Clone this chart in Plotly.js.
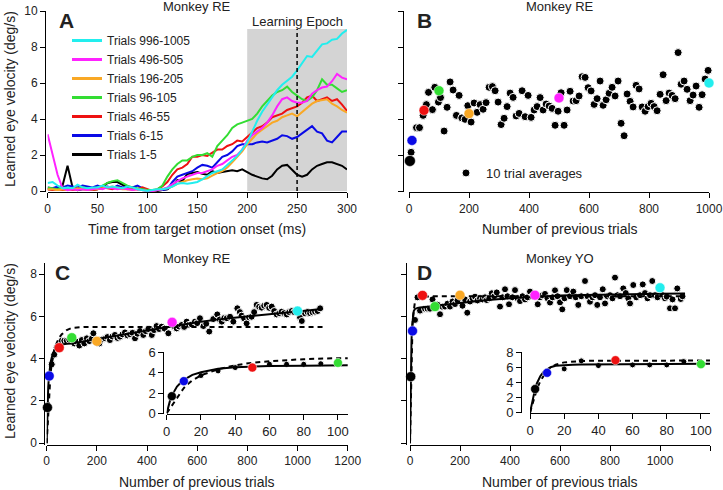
<!DOCTYPE html>
<html><head><meta charset="utf-8">
<script src="https://cdn.plot.ly/plotly-3.0.1.min.js"></script>
<style>html,body{margin:0;padding:0;background:#fff}#chart{width:723px;height:490px}</style>
</head><body><div id="chart"></div>
<script>
// ---------- Panel A: learned eye velocity traces ----------
const timeMs = [0,5,10,15,20,25,30,35,40,45,50,55,60,65,70,75,80,85,90,95,100,105,110,115,120,125,130,135,140,145,150,155,160,165,170,175,180,185,190,195,200,205,210,215,220,225,230,235,240,245,250,255,260,265,270,275,280,285,290,295,300];
const trials996 = [0.45,0.5,0.3,0.15,0.2,0.15,0.35,0.2,0.15,0.2,0.2,0.3,0.2,0.25,0.2,0.15,0.25,0.2,0.1,0.05,0.0,0.05,0.1,0.1,0.15,0.25,0.4,0.45,0.4,0.45,0.5,0.65,0.85,1.0,1.1,1.2,1.45,1.7,1.95,2.3,2.7,3.3,3.9,4.4,4.8,5.2,5.6,5.9,6.1,6.35,6.7,7.1,7.5,7.45,7.8,8.15,8.2,8.4,8.45,8.75,8.95];
const trials496 = [3.15,2.1,0.9,0.15,0.05,0.1,0.05,0.1,0.05,0.1,0.15,0.1,0.2,0.15,0.1,0.15,0.1,0.05,0.1,0.05,0.0,0.0,0.05,0.1,0.2,0.4,0.55,0.7,0.8,0.9,1.0,1.0,1.1,1.2,1.4,1.5,1.7,1.9,2.0,2.3,2.8,3.1,3.3,3.5,3.8,4.2,4.7,5.1,5.2,5.0,4.9,4.9,5.0,5.4,5.6,5.75,5.8,6.1,6.5,6.3,6.2];
const trials196 = [0.1,0.1,0.05,0.1,0.05,0.1,0.15,0.1,0.05,0.1,0.1,0.15,0.2,0.25,0.15,0.1,0.1,0.05,0.1,0.05,0.0,0.0,0.05,0.1,0.15,0.25,0.4,0.5,0.6,0.65,0.7,0.65,0.7,0.85,1.0,1.1,1.3,1.6,1.9,2.2,2.6,2.9,3.2,3.4,3.6,3.8,3.9,4.1,4.2,4.3,4.15,4.4,4.6,4.85,5.0,5.05,5.1,4.85,4.7,4.5,4.35];
const trials96 = [0.2,0.15,0.1,0.2,0.1,0.15,0.1,0.2,0.15,0.1,0.2,0.3,0.45,0.55,0.6,0.45,0.3,0.2,0.15,0.1,0.05,0.05,0.1,0.3,0.8,1.2,1.5,1.7,1.7,1.9,2.0,2.0,2.1,1.9,2.5,2.8,3.1,3.5,3.7,3.8,3.9,4.0,4.3,4.7,5.0,5.3,5.5,5.6,5.8,5.5,5.3,5.1,5.0,5.2,5.6,6.2,5.9,5.9,5.7,5.5,5.6];
const trials46 = [0.1,0.05,0.1,0.05,0.1,0.05,0.1,0.15,0.1,0.05,0.1,0.2,0.15,0.1,0.2,0.15,0.1,0.15,0.1,0.2,0.1,0.0,0.1,0.25,0.5,0.9,1.2,1.3,1.5,1.9,1.9,2.0,1.95,2.15,2.3,2.3,2.5,2.6,2.8,2.75,3.0,3.3,3.5,3.6,3.8,4.1,4.2,4.3,4.5,4.6,4.7,4.9,5.2,5.3,5.0,5.1,5.2,5.0,5.1,4.8,4.45];
const trials6 = [0.2,0.15,0.25,0.2,0.3,0.25,0.2,0.3,0.25,0.2,0.3,0.2,0.25,0.15,0.3,0.2,0.25,0.2,0.3,0.15,0.0,0.0,0.05,0.05,0.1,0.5,0.8,0.9,1.0,1.1,1.3,1.45,1.4,1.3,1.6,1.9,2.0,2.2,2.5,2.6,2.6,2.6,2.7,2.75,2.7,2.8,2.9,3.1,3.05,2.9,3.0,3.2,3.4,3.6,3.3,3.2,2.8,2.7,3.0,3.3,3.3];
const trials1 = [0.1,0.1,0.15,0.3,1.4,0.2,0.05,0.1,0.1,0.05,0.1,0.2,0.45,0.5,0.5,0.35,0.2,0.2,0.1,0.1,0.0,0.0,0.0,0.05,0.1,0.3,0.6,0.55,0.95,1.0,1.05,0.95,0.9,1.1,1.0,1.05,1.1,1.15,1.1,1.2,1.05,0.9,0.8,0.7,0.65,0.85,1.2,1.4,1.45,1.2,0.9,0.8,0.9,1.2,1.4,1.5,1.6,1.6,1.5,1.4,1.2];
const seriesNames = ['Trials 1-5','Trials 6-15','Trials 46-55','Trials 96-105','Trials 196-205','Trials 496-505','Trials 996-1005'];
const seriesColors = ['#000000','#0a0ae6','#ee1111','#33dd33','#f9a825','#ff22ff','#22eeee'];
const seriesValues = [trials1,trials6,trials46,trials96,trials196,trials496,trials996];
const epoch = {start:200, end:300, top:9, mark:250};

// ---------- Key trials (coloured dots in B, C, D) ----------
const keyTrials = [3,10,50,100,200,500,1000];
const keyColors = ['#000000','#0a0ae6','#ee1111','#33dd33','#f9a825','#ff22ff','#22eeee'];
const keyB = [1.67,2.81,4.48,5.57,4.30,5.17,6.00];
const keyC = [1.69,3.18,4.52,4.99,4.82,5.72,6.25];
const keyD = [3.15,5.31,6.99,6.46,7.00,7.00,7.35];

// ---------- Panel B: 10 trial averages ----------
const bTrials = [7,25,35,47,58,65,78,86,98,105,117,127,137,147,158,167,176,187,196,207,217,227,237,247,257,267,278,287,297,307,317,327,337,347,357,367,377,387,397,407,417,427,437,447,457,467,477,487,497,507,517,527,537,547,557,567,577,587,597,607,617,627,637,647,657,667,677,687,697,707,717,727,737,747,757,767,777,787,797,807,817,827,837,847,857,867,877,887,897,907,917,927,937,947,957,967,977,987,997];
const bVel = [2.15,3.52,3.52,4.2,4.8,5.48,4.52,5.76,4.94,5.19,3.33,4.65,6.06,5.61,4.2,5.31,4.06,3.98,4.74,3.83,4.89,4.37,4.8,4.54,4.91,5.76,5.8,5.57,4.94,3.69,4.04,4.69,5.44,5.2,4.17,4.31,5.57,4.13,5.31,4.09,4.5,4.69,5.19,4.5,4.83,4.72,4.59,3.65,4.43,5.46,3.65,4.5,5.54,5.0,5.02,5.28,6.35,6.31,5.74,5.56,4.81,5.13,6.11,4.76,5.07,5.43,5.76,5.28,6.11,3.76,3.07,5.39,4.98,4.67,5.87,5.67,4.67,4.43,4.69,4.87,4.69,4.46,5.37,6.46,5.02,5.44,5.31,5.13,7.69,5.93,6.11,5.65,5.02,5.33,5.83,4.65,5.35,6.22,6.7];

// ---------- Panel C: Monkey RE ----------
const cTrials = [20,30,40,60,70,80,90,110,120,130,140,150,160,170,180,186,195,210,220,233,242,252,262,272,282,292,302,312,322,332,342,352,362,372,385,395,405,419,428,438,448,458,470,485,510,518,528,538,548,558,568,578,591,600,611,625,636,648,664,680,690,698,708,718,731,744,760,770,777,787,797,807,817,827,837,847,857,867,877,887,897,907,917,927,937,947,957,967,977,987,1010,1017,1030,1040,1050,1060,1070,1080,1090];
const cVel = [3.73,4.19,4.52,4.85,4.85,4.85,4.9,4.72,4.8,4.62,4.88,4.72,4.96,4.83,4.95,5.2,4.85,4.72,4.9,4.96,5.02,4.88,5.05,5.12,4.98,5.04,5.15,5.24,5.1,5.15,5.22,4.96,5.18,5.31,5.12,5.3,5.4,5.12,5.35,5.54,5.4,5.51,5.42,5.2,5.5,5.43,5.52,5.59,5.5,5.75,5.6,5.62,5.75,5.68,5.91,5.54,5.65,5.28,5.87,6.09,5.85,5.75,5.92,5.91,5.98,5.75,6.38,6.2,6.03,5.9,5.67,5.95,5.98,6.2,6.54,6.45,6.41,6.5,6.54,6.4,6.46,6.25,6.09,6.15,6.22,6.15,6.09,6.2,6.25,6.2,5.95,5.78,6.14,6.2,6.15,6.19,6.22,6.25,6.38];
const fitTrials = [0,1,2,3,4,6,8,10,12,15,20,25,30,40,50,60,80,100,150,200,300,400,500,600,700,800,900,1000,1100];
const cFitSolid = [0,0.7,1.3,1.75,2.1,2.65,3.0,3.3,3.5,3.8,4.05,4.25,4.4,4.55,4.62,4.67,4.7,4.72,4.82,4.93,5.13,5.33,5.53,5.72,5.88,6.0,6.1,6.22,6.35];
const cFitDashed = [0,0.25,0.5,0.75,1.0,1.5,2.0,2.5,2.85,3.25,3.75,4.05,4.35,4.75,5.0,5.15,5.35,5.45,5.5,5.5,5.5,5.5,5.5,5.5,5.5,5.5,5.5,5.5,5.5];

// ---------- Panel D: Monkey YO ----------
const dTrials = [20,30,40,60,70,80,90,110,120,130,140,150,160,170,180,190,210,220,229,240,250,260,270,280,290,300,307,317,327,337,347,360,370,380,390,396,410,420,430,440,450,460,470,480,490,511,520,530,540,550,560,570,580,590,600,609,618,627,640,653,663,673,685,700,710,720,730,740,749,760,771,780,790,800,810,820,830,840,853,863,873,880,893,905,920,931,940,950,960,969,980,990,1010,1020,1027,1040,1050,1060,1069,1083,1090];
const dVel = [5.83,6.9,6.27,6.36,6.36,6.36,6.8,6.55,6.1,6.45,6.46,6.6,6.46,6.7,6.58,6.75,6.5,6.8,6.17,6.7,6.85,6.93,6.75,6.85,6.8,6.9,6.77,6.85,7.09,6.95,7.13,6.46,6.9,7.28,6.95,6.57,6.9,7.24,6.85,6.72,6.95,6.8,6.9,7.17,6.95,6.57,6.9,7.0,7.06,6.85,6.65,6.9,7.23,6.95,6.66,6.33,6.85,7.24,6.95,7.17,6.9,6.54,6.95,7.67,6.95,6.69,6.9,7.0,6.54,6.9,7.28,6.61,6.95,7.0,6.85,7.83,7.0,6.95,7.32,7.1,6.85,6.61,7.48,6.9,7.0,7.51,7.1,6.85,7.0,7.67,7.0,6.9,7.0,6.85,6.93,6.38,6.8,6.38,7.32,6.82,6.95];
const dFitSolid = [0,1.2,2.3,3.2,3.9,4.85,5.45,5.8,6.05,6.25,6.35,6.38,6.4,6.42,6.44,6.45,6.47,6.5,6.57,6.63,6.76,6.86,6.93,6.98,7.01,7.04,7.06,7.07,7.08];
const dFitDashed = [0,0.8,1.6,2.4,3.1,4.2,5.0,5.6,6.0,6.4,6.7,6.82,6.88,6.92,6.93,6.94,6.95,6.95,6.95,6.95,6.95,6.95,6.95,6.95,6.95,6.95,6.95,6.95,6.95];
const insetMax = 100;

// ---------- helpers ----------
const W = 723, H = 490;
const FONT = 'Liberation Sans, Arial, Helvetica, sans-serif';
const TXT = '#222';
const fx = p => p / W;
const fy = p => 1 - p / H;
function pick(xs, ys, lim){const ox=[],oy=[];xs.forEach((x,i)=>{if(x<=lim){ox.push(x);oy.push(ys[i]);}});return [ox,oy];}

const traces = [];
// Panel A: data lines
seriesValues.forEach((vals, i) => {
  traces.push({x: timeMs, y: vals, type:'scatter', mode:'lines', name: seriesNames[i],
    line:{color: seriesColors[i], width:2}, xaxis:'x', yaxis:'y', showlegend:false});
});
// Panel A: legend entries (thicker key lines, no data)
seriesNames.forEach((nm, i) => {
  traces.push({x:[null], y:[null], type:'scatter', mode:'lines', name:nm,
    line:{color: seriesColors[i], width:3}, xaxis:'x', yaxis:'y', showlegend:true, legend:'legend'});
});
// Panel B
traces.push({x:bTrials, y:bVel, type:'scatter', mode:'markers', name:'10 trial averages',
  marker:{color:'#000', size:8, opacity:1, line:{color:'#fff', width:1}}, xaxis:'x2', yaxis:'y2',
  showlegend:true, legend:'legend2', cliponaxis:false});
traces.push({x:keyTrials, y:keyB, type:'scatter', mode:'markers', showlegend:false,
  marker:{color:keyColors, size:[11,10,10,10,10,10,10], opacity:1, line:{color:'#fff', width:0.5}}, xaxis:'x2', yaxis:'y2', cliponaxis:false});

function fitPanel(xa, ya, trialsArr, velArr, key, solid, dashed, small, big, lim){
  let tx = trialsArr, ty = velArr, kx = keyTrials, ky = key, kc = keyColors;
  if (lim) {
    [tx, ty] = pick(trialsArr, velArr, lim);
    const k = pick(keyTrials, key, lim); kx = k[0]; ky = k[1]; kc = keyColors.slice(0, kx.length);
  }
  traces.push({x:tx, y:ty, type:'scatter', mode:'markers', showlegend:false, cliponaxis:false,
    marker:{color:'#000', size:small, opacity:1, line:{color:'#fff', width:1}}, xaxis:xa, yaxis:ya});
  traces.push({x:fitTrials, y:solid, type:'scatter', mode:'lines', showlegend:false,
    line:{color:'#000', width:2}, xaxis:xa, yaxis:ya});
  traces.push({x:fitTrials, y:dashed, type:'scatter', mode:'lines', showlegend:false,
    line:{color:'#000', width:2, dash:'5px,4px'}, xaxis:xa, yaxis:ya});
  traces.push({x:kx, y:ky, type:'scatter', mode:'markers', showlegend:false, cliponaxis:false,
    marker:{color:kc, size:big, opacity:1, line:{color:'#fff', width:0.5}}, xaxis:xa, yaxis:ya});
}
fitPanel('x3','y3', cTrials, cVel, keyC, cFitSolid, cFitDashed, 7, 10, null);
fitPanel('x4','y4', dTrials, dVel, keyD, dFitSolid, dFitDashed, 7, 10, null);
fitPanel('x5','y5', cTrials, cVel, keyC, cFitSolid, cFitDashed, 6, 9, insetMax);
fitPanel('x6','y6', dTrials, dVel, keyD, dFitSolid, dFitDashed, 6, 9, insetMax);

const axBase = {showline:true, linecolor:'#000', linewidth:1, ticks:'outside', ticklen:5, tickwidth:1,
  tickcolor:'#000', showgrid:false, zeroline:false, tickfont:{family:FONT, size:12, color:TXT}, fixedrange:true};
const ax = o => Object.assign({}, axBase, o);
const insetFont = {family:FONT, size:13, color:TXT};

function label(text, x, y, size, extra){
  return Object.assign({text, xref:'paper', yref:'paper', x:fx(x), y:fy(y), xanchor:'center', yanchor:'middle',
    showarrow:false, font:{size, color:TXT, family:FONT}}, extra || {});
}

const layout = {
  width:W, height:H, margin:{l:0,r:0,t:0,b:0}, paper_bgcolor:'#fff', plot_bgcolor:'rgba(0,0,0,0)',
  font:{family:FONT, color:TXT},
  xaxis: ax({domain:[fx(47.6), fx(347)], range:[0,300], dtick:50, anchor:'y'}),
  yaxis: ax({domain:[fy(192.4), fy(11)], range:[-0.078,10], dtick:2, anchor:'free', position:fx(45)}),
  xaxis2: ax({domain:[fx(409), fx(709)], range:[0,1000], dtick:200, anchor:'y2'}),
  yaxis2: ax({domain:[fy(192.4), fy(11)], range:[-0.078,10], dtick:2, anchor:'free', position:fx(403), showticklabels:false}),
  xaxis3: ax({domain:[fx(46.7), fx(347.7)], range:[0,1200], dtick:200, anchor:'y3'}),
  yaxis3: ax({domain:[fy(444.5), fy(262.7)], range:[-0.057,8.535], dtick:2, anchor:'free', position:fx(44.3)}),
  xaxis4: ax({domain:[fx(410), fx(710)], range:[0,1200], dtick:200, anchor:'y4'}),
  yaxis4: ax({domain:[fy(444.5), fy(262.7)], range:[-0.057,8.535], dtick:2, anchor:'free', position:fx(405.7), showticklabels:false}),
  xaxis5: ax({domain:[fx(166.7), fx(347.7)], range:[0,105.7], dtick:20, anchor:'y5', tickfont:insetFont}),
  yaxis5: ax({domain:[fy(414), fy(352.3)], range:[-0.07,6.03], dtick:2, anchor:'free', position:fx(163.3), tickfont:insetFont}),
  xaxis6: ax({domain:[fx(530), fx(710)], range:[0,105.3], dtick:20, anchor:'y6', tickfont:insetFont}),
  yaxis6: ax({domain:[fy(413.4), fy(352.3)], range:[-0.093,8.04], dtick:2, anchor:'free', position:fx(521), tickfont:insetFont}),
  legend: {x:fx(67), xanchor:'left', y:fy(26), yanchor:'top', traceorder:'reversed', bgcolor:'rgba(0,0,0,0)',
    font:{family:FONT, size:12, color:TXT}, itemwidth:30, tracegroupgap:0},
  legend2: {x:fx(446), xanchor:'left', y:fy(173), yanchor:'middle', bgcolor:'rgba(0,0,0,0)',
    font:{family:FONT, size:13, color:TXT}, itemwidth:30},
  shapes: [
    {type:'rect', xref:'x', yref:'y', x0:epoch.start, x1:epoch.end, y0:0, y1:epoch.top, fillcolor:'#d4d4d4', line:{width:0}, layer:'below'},
    {type:'line', xref:'x', yref:'y', x0:epoch.mark, x1:epoch.mark, y0:0, y1:epoch.top, line:{color:'#000', width:1.5, dash:'4px,3px'}, layer:'above'}
  ],
  annotations: [
    {text:'Learning Epoch', xref:'x', yref:'y', x:epoch.mark, y:epoch.top+0.42, xanchor:'center', yanchor:'middle', showarrow:false, font:{size:13, color:TXT, family:FONT}},
    label('Monkey RE', 197, 7, 13),
    label('Monkey RE', 560, 7, 13),
    label('Monkey RE', 197, 258, 13),
    label('Monkey YO', 560, 258, 13),
    label('<b>A</b>', 66, 20, 21),
    label('<b>B</b>', 424, 20, 21),
    label('<b>C</b>', 62, 272, 21),
    label('<b>D</b>', 424, 272, 21),
    label('Time from target motion onset (ms)', 197, 229, 14),
    label('Number of previous trials', 560, 229, 14),
    label('Number of previous trials', 197, 482, 14),
    label('Number of previous trials', 560, 482, 14),
    label('Learned eye velocity (deg/s)', 10, 99, 14, {textangle:-90}),
    label('Learned eye velocity (deg/s)', 10, 351, 14, {textangle:-90})
  ]
};
Plotly.newPlot('chart', traces, layout, {displayModeBar:false, staticPlot:true});
</script></body></html>
